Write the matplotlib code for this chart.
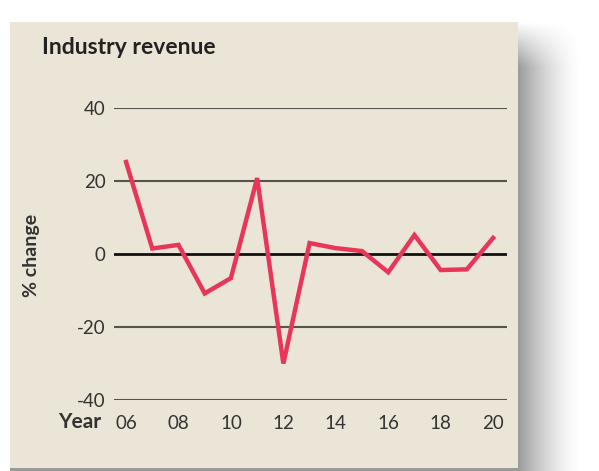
import matplotlib
matplotlib.use("Agg")
import matplotlib.pyplot as plt
import numpy as np
from matplotlib.patches import Rectangle

# data
years = [2006, 2007, 2008, 2009, 2010, 2011, 2012, 2013, 2014, 2015, 2016, 2017, 2018, 2019, 2020]
revenue_change = [25.2, 1.5, 2.5, -10.8, -6.6, 20.8, -30.0, 3.0, 1.6, 0.8, -5.0, 5.2, -4.4, -4.2, 4.4]
y_ticks = [-40, -20, 0, 20, 40]
x_ticks = [2006, 2008, 2010, 2012, 2014, 2016, 2018, 2020]
x_labels = ['06', '08', '10', '12', '14', '16', '18', '20']

W, H = 599, 471
plt.rcParams['font.family'] = ['Lato', 'DejaVu Sans']

fig = plt.figure(figsize=(W / 100, H / 100), dpi=100)
fig.patch.set_facecolor('white')

# background axes in pixel coords for the panel and its shadow
bg = fig.add_axes([0, 0, 1, 1], zorder=0)
bg.set_xlim(0, W)
bg.set_ylim(H, 0)
bg.axis('off')

# drop shadow: fades out to the right and in from the top
xx = np.arange(W) + 0.5
yy = np.arange(H) + 0.5
fx = np.clip(1 - (xx - 518) / 65, 0, 1) ** 1.6
fx[xx < 518] = 1
fy = np.clip((yy - 22) / 45, 0, 1)
alpha = np.outer(fy, fx) * 0.5
shadow = np.zeros((H, W, 4))
shadow[..., :3] = 0.2
shadow[..., 3] = alpha
shadow[:, :10, 3] = 0
bg.imshow(shadow, extent=(0, W, H, 0), interpolation='bilinear', aspect='auto')
bg.set_xlim(0, W)
bg.set_ylim(H, 0)
bg.add_patch(Rectangle((10, 22), 508, 446, facecolor='#eae5d6', edgecolor='none'))

ax = fig.add_axes([114 / W, 71 / H, 393 / W, 292 / H], zorder=2)
ax.set_facecolor('none')
for s in ax.spines.values():
    s.set_visible(False)

for t in y_ticks:
    if t == 0:
        ax.axhline(t, color='#111111', lw=2.0, zorder=2)
    else:
        ax.axhline(t, color='#55554d', lw=1.5, zorder=2)

ax.plot(years, revenue_change, color='#e8365a', lw=3.2, solid_joinstyle='miter', zorder=3)

ax.set_xlim(2005.54, 2020.53)
ax.set_ylim(-40, 40)
ax.set_yticks(y_ticks)
ax.set_yticklabels([str(t) for t in y_ticks])
ax.set_xticks(x_ticks)
ax.set_xticklabels(x_labels)
ax.tick_params(axis='both', length=0, labelsize=13.5, labelcolor='#333333')
ax.tick_params(axis='y', pad=6)
ax.tick_params(axis='x', pad=11)

fig.text(42 / W, 1 - 47 / H, 'Industry revenue', fontsize=16.5, fontweight='bold',
         color='#222222', va='center', ha='left')
fig.text(32 / W, 1 - 255 / H, '% change', fontsize=14, fontweight='bold',
         color='#333333', rotation=90, va='center', ha='center')
fig.text(101 / W, 1 - 422 / H, 'Year', fontsize=15, fontweight='bold',
         color='#333333', va='center', ha='right')

fig.savefig('out.png', dpi=100)
